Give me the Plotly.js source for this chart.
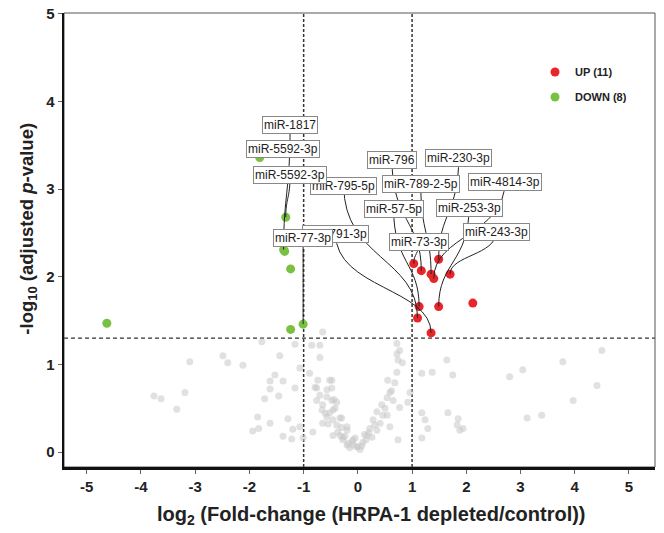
<!DOCTYPE html>
<html>
<head>
<meta charset="utf-8">
<script src="https://cdn.plot.ly/plotly-3.0.1.min.js"></script>
<style>html,body{margin:0;padding:0;background:#fff;}#chart{width:664px;height:533px;}</style>
</head>
<body>
<div id="chart"></div>
<script>
// Up-regulated (red)
const upX = [1.49, 1.03, 1.17, 1.35, 1.40, 1.70, 1.13, 1.49, 2.12, 1.10, 1.35];
const upY = [2.20, 2.15, 2.07, 2.03, 1.98, 2.03, 1.66, 1.66, 1.70, 1.53, 1.36];
// Down-regulated (green)
const downX = [-4.63, -1.81, -1.33, -1.37, -1.35, -1.24, -1.24, -1.01];
const downY = [1.47, 3.36, 2.68, 2.31, 2.29, 2.09, 1.40, 1.46];
// Not significant (grey)
const nsX = [-1.77,-2.49,-2.40,-2.12,-3.10,-1.44,-1.16,-1.07,-1.53,-1.62,-1.38,-1.62,-1.46,-1.72,-1.16,-3.19,-3.76,-3.63,-3.34,-1.85,-1.62,-1.29,-1.83,-1.94,-1.38,-1.20,-1.07,-1.22,-1.01,
  -0.85,-0.70,-0.65,-0.70,-0.89,-0.74,-0.52,-0.76,-0.48,-0.57,-0.39,-0.76,-0.66,-0.46,-0.57,-0.33,-0.65,-0.39,-0.20,-0.83,-0.46,-0.28,-0.09,-0.20,-0.02,
  0.77,0.72,0.74,0.72,0.55,0.68,0.59,0.96,0.54,0.65,0.44,0.77,0.92,0.35,0.54,0.28,0.41,0.22,0.35,0.17,0.26,0.09,0.00,-0.09,-0.18,-0.28,-0.33,-0.20,-0.46,-0.30,-0.52,-0.42,-0.65,-0.48,-0.70,-0.57,-0.79,-0.48,
  0.74,0.59,1.18,1.37,1.64,1.75,1.18,1.24,1.29,1.18,1.66,1.85,1.83,1.94,1.88,2.80,3.04,3.12,3.39,3.78,3.97,4.41,4.50,
  -0.15,0.07,0.15,-0.24,0.31,0.46,-0.37,-0.55,0.72,0.82,
  -0.10,0.04,0.12,-0.05,0.20,-0.30,0.50,0.62,-0.60,-0.44];
const nsY = [1.26,1.10,1.02,0.99,1.03,1.10,1.23,0.96,0.88,0.81,0.81,0.72,0.64,0.61,0.73,0.68,0.64,0.61,0.49,0.40,0.33,0.38,0.27,0.24,0.18,0.26,0.29,0.15,0.16,
  1.22,1.22,1.37,1.08,0.90,0.82,0.82,0.73,0.73,0.63,0.57,0.59,0.48,0.48,0.40,0.39,0.33,0.31,0.29,0.23,0.19,0.17,0.14,0.08,0.06,
  1.16,1.24,1.05,0.91,0.82,0.79,0.68,0.68,0.62,0.59,0.54,0.51,0.57,0.46,0.42,0.37,0.33,0.27,0.25,0.19,0.17,0.11,0.06,0.08,0.10,0.14,0.19,0.25,0.37,0.39,0.45,0.50,0.54,0.59,0.65,0.71,0.74,0.82,
  0.14,0.29,0.90,0.91,1.05,0.88,0.45,0.37,0.27,0.16,0.45,0.38,0.31,0.27,0.25,0.86,0.94,0.39,0.42,1.03,0.59,0.76,1.16,
  0.05,0.07,0.14,0.18,0.31,0.42,0.23,0.32,1.12,1.02,
  0.12,0.03,0.20,0.16,0.22,0.28,0.50,0.70,0.44,0.60];
// Labels: text, target point, label position (data units)
const labText = ["miR-1817","miR-5592-3p","miR-795-5p","miR-5592-3p","miR-791-3p","miR-77-3p",
  "miR-796","miR-230-3p","miR-789-2-5p","miR-4814-3p","miR-57-5p","miR-253-3p","miR-243-3p","miR-73-3p"];
const labPtX = [-1.37,-1.81,1.10,-1.33,1.35,-1.01, 1.17,1.49,1.35,1.40,1.13,1.49,1.70,1.03];
const labPtY = [2.31,3.36,1.53,2.68,1.36,1.46, 2.07,2.20,2.03,1.98,1.66,1.66,2.03,2.15];
const labX = [-1.25,-1.38,-0.26,-1.25,-0.41,-1.01, 0.63,1.86,1.16,2.71,0.66,2.05,2.55,1.13];
const labY = [3.73,3.46,3.04,3.16,2.49,2.44, 3.33,3.36,3.06,3.08,2.77,2.79,2.51,2.40];
const fcCut = [-1, 1];
const pCut = 1.301;
const xTicks = [-5,-4,-3,-2,-1,0,1,2,3,4,5];
const yTicks = [0,1,2,3,4,5];
const xTitle = "<b>log<sub>2</sub> (Fold-change (HRPA-1 depleted/control))</b>";
const yTitle = "<b>-log<sub>10</sub> (adjusted <i>p</i>-value)</b>";

const FONT = "Liberation Sans, Arial, sans-serif";
const traces = [
  {x: nsX, y: nsY, type: "scatter", mode: "markers", showlegend: false, hoverinfo: "skip",
   marker: {color: "rgba(200,200,200,0.55)", size: 7}},
  {x: upX, y: upY, type: "scatter", mode: "markers", name: "<b>UP (11)</b>", legend: "legend",
   marker: {color: "#e8262a", size: 9}},
  {x: downX, y: downY, type: "scatter", mode: "markers", name: "<b>DOWN (8)</b>", legend: "legend2",
   marker: {color: "#79c143", size: 9}}
];
const annotations = labText.map((t, i) => ({
  x: labX[i], y: labY[i], xref: "x", yref: "y", showarrow: false,
  text: t,
  font: {family: FONT, size: 12, color: "#222"},
  bgcolor: "#ffffff", bordercolor: "#888", borderwidth: 1, borderpad: 1
}));
annotations.push({xref: "paper", yref: "paper", x: 0.521, y: -0.106, xanchor: "center", yanchor: "middle",
  showarrow: false, text: xTitle, font: {family: FONT, size: 20, color: "#222"}});
annotations.push({xref: "paper", yref: "paper", x: -0.06, y: 0.524, xanchor: "center", yanchor: "middle",
  showarrow: false, textangle: -90, text: yTitle, font: {family: FONT, size: 18.5, color: "#222"}});
const dashV = {color: "#333", width: 1.5, dash: "3px,2px"};
const dashH = {color: "#333", width: 1.2, dash: "4px,3px"};
const shapes = [
  {type: "line", xref: "x", yref: "paper", x0: fcCut[0], x1: fcCut[0], y0: 0, y1: 1, line: dashV, layer: "below"},
  {type: "line", xref: "x", yref: "paper", x0: fcCut[1], x1: fcCut[1], y0: 0, y1: 1, line: dashV, layer: "below"},
  {type: "line", xref: "paper", yref: "y", x0: 0, x1: 1, y0: pCut, y1: pCut, line: dashH, layer: "below"},
  {type: "rect", xref: "paper", yref: "paper", x0: 0, x1: 1, y0: 0, y1: 1, line: {color: "#555", width: 1}, layer: "below"}
];
// connector curves from each label to its point
labText.forEach((t, i) => {
  const ax = labX[i], ay = labY[i], px = labPtX[i], py = labPtY[i];
  const my = py + (ay - py) * 0.45;
  shapes.push({type: "path", xref: "x", yref: "y", layer: "above",
    path: `M ${ax},${ay} C ${ax},${my} ${px},${my} ${px},${py}`,
    line: {color: "#222", width: 1}});
});
const legFont = {family: FONT, size: 11, color: "#222"};
const layout = {
  width: 664, height: 533,
  margin: {l: 64, r: 9, t: 13, b: 66},
  paper_bgcolor: "#fff", plot_bgcolor: "#fff",
  font: {family: FONT, color: "#222"},
  showlegend: true,
  legend: {x: 0.797, y: 0.902, xanchor: "left", yanchor: "top", bgcolor: "rgba(0,0,0,0)", font: legFont},
  legend2: {x: 0.797, y: 0.847, xanchor: "left", yanchor: "top", bgcolor: "rgba(0,0,0,0)", font: legFont},
  xaxis: {range: [-5.42, 5.48], tickvals: xTicks, ticktext: xTicks.map(String),
          showgrid: false, zeroline: false, showline: true, linecolor: "#111", linewidth: 2.5,
          ticks: "outside", ticklen: 4, tickcolor: "#666",
          tickfont: {family: FONT, size: 15, color: "#222", weight: "bold"}},
  yaxis: {range: [-0.17, 5.01], tickvals: yTicks, ticktext: yTicks.map(String),
          showgrid: false, zeroline: false, showline: true, linecolor: "#111", linewidth: 2.5,
          ticks: "outside", ticklen: 4, tickcolor: "#666",
          tickfont: {family: FONT, size: 15, color: "#222", weight: "bold"}},
  annotations: annotations,
  shapes: shapes
};
Plotly.newPlot("chart", traces, layout, {displayModeBar: false, staticPlot: true});
</script>
</body>
</html>
